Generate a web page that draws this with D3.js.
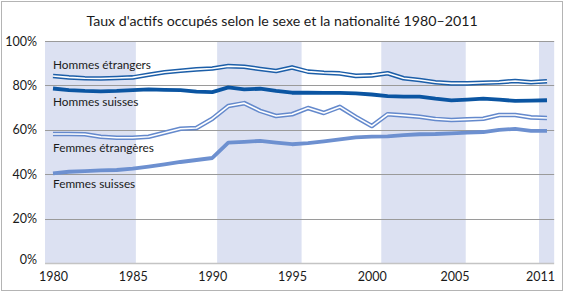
<!DOCTYPE html>
<html>
<head>
<meta charset="utf-8">
<script src="https://cdn.jsdelivr.net/npm/d3@7"></script>
<style>
  body { margin: 0; background: #fff; }
  svg text { font-family: Lato, "Noto Sans", sans-serif; fill: #1a1a1a; }
</style>
</head>
<body>
<div id="chart"></div>
<script>
const years = d3.range(1980, 2012)

const hommesEtrangers = [84.2, 83.6, 83.2, 83.1, 83.3, 83.6, 84.8, 85.9, 86.6, 87.2, 87.6, 88.7, 88.4, 87.4, 86.5, 88.1,
  86.2, 85.7, 85.4, 84.3, 84.5, 85.5, 83.2, 82.4, 81.4, 80.9, 80.9, 81.2, 81.4, 82.0, 81.4, 81.9]
const hommesSuisses = [78.6, 77.9, 77.5, 77.3, 77.5, 77.9, 78.2, 78.0, 77.9, 77.2, 77.0, 79.1, 78.2, 78.5, 77.5, 76.7,
  76.7, 76.6, 76.6, 76.4, 75.9, 75.2, 74.9, 74.9, 74.0, 73.3, 73.6, 74.0, 73.6, 73.0, 73.1, 73.3]
const femmesEtrangeres = [58.1, 58.1, 58.0, 56.9, 56.4, 56.4, 56.9, 58.7, 60.5, 60.8, 65.0, 70.7, 72.0, 68.5, 66.2, 67.0,
  69.8, 67.6, 70.3, 65.8, 61.7, 67.0, 66.5, 65.9, 64.9, 64.4, 64.7, 65.0, 66.7, 66.7, 65.6, 65.3]
const femmesSuisses = [40.4, 41.1, 41.4, 41.7, 41.9, 42.5, 43.4, 44.4, 45.5, 46.4, 47.3, 54.2, 54.6, 55.0, 54.2, 53.5,
  54.0, 54.8, 55.7, 56.6, 56.9, 57.0, 57.6, 58.0, 58.1, 58.4, 58.7, 59.0, 60.0, 60.4, 59.5, 59.5]

const seriesNames = ["Hommes étrangers", "Hommes suisses", "Femmes étrangères", "Femmes suisses"]
const xTicks = [1980, 1985, 1990, 1995, 2000, 2005, 2011]
const yTicks = [0, 20, 40, 60, 80, 100]
const bandStart = [1979.5, 1990.3, 2000.6, 2010.5]
const bandEnd = [1985.2, 1995.6, 2005.9, 2011.45]

const title = "Taux d'actifs occupés selon le sexe et la nationalité 1980–2011"

const dimensions = { width: 564, height: 293 }

const svg = d3.select("#chart")
  .append("svg")
  .attr("width", dimensions.width)
  .attr("height", dimensions.height)

svg.append("rect")
  .attr("x", 1.5).attr("y", 1.5)
  .attr("width", 561).attr("height", 289)
  .attr("fill", "#fff")
  .attr("stroke", "#b4b4b4")

const xScale = d3.scaleLinear()
  .domain([1980, 2011])
  .range([53, 547])

const yScale = d3.scaleLinear()
  .domain([0, 100])
  .range([263, 41])

const plotLeft = xScale(1979.5), plotRight = xScale(2011.45)

// shaded periods
svg.append("g")
  .selectAll("rect")
  .data(bandStart)
  .join("rect")
  .attr("x", (d, i) => xScale(d))
  .attr("width", (d, i) => xScale(bandEnd[i]) - xScale(d))
  .attr("y", yScale(100))
  .attr("height", yScale(0) - yScale(100))
  .attr("fill", "#dce1f2")

// grid
svg.append("g")
  .selectAll("line")
  .data(yTicks)
  .join("line")
  .attr("x1", plotLeft)
  .attr("x2", plotRight)
  .attr("y1", d => Math.round(yScale(d)) + 0.5)
  .attr("y2", d => Math.round(yScale(d)) + 0.5)
  .attr("stroke", d => d === 0 ? "#c4c4c4" : "#9a9a9a")
  .attr("stroke-width", d => d === 0 ? 1.5 : 1)

const yAxis = d3.axisLeft(yScale)
  .tickValues(yTicks)
  .tickFormat(d => d + "%")
  .tickSize(0)
  .tickPadding(0)

svg.append("g")
  .attr("transform", "translate(37, 0)")
  .call(yAxis)
  .call(g => g.select(".domain").remove())
  .call(g => g.selectAll("text").attr("font-size", 12.5).attr("font-family", "Lato"))
  .call(g => g.selectAll(".tick").filter(d => d === 0).select("text").attr("dy", "0.05em"))

const xAxis = d3.axisBottom(xScale)
  .tickValues(xTicks)
  .tickFormat(d3.format("d"))
  .tickSize(0)
  .tickPadding(9)

svg.append("g")
  .attr("transform", `translate(0, ${yScale(0)})`)
  .call(xAxis)
  .call(g => g.select(".domain").remove())
  .call(g => g.selectAll("text").attr("font-size", 12.5).attr("font-family", "Lato"))
  .call(g => g.selectAll(".tick").filter(d => d === 2011).select("text").attr("dx", -7))
  .call(g => g.selectAll(".tick").filter(d => d === 2005).select("text").attr("dx", 3))

const line = d3.line()
  .x((d, i) => xScale(years[i]))
  .y(d => yScale(d))

const lines = svg.append("g").attr("fill", "none").attr("stroke-linejoin", "round")

// double lines for foreigners, solid for swiss
const styles = [
  { data: hommesEtrangers, color: "#1c5ea8", width: 4.6, inner: 1.6 },
  { data: hommesSuisses, color: "#0b55a2", width: 3.8, inner: 0 },
  { data: femmesEtrangeres, color: "#6489cc", width: 4.6, inner: 1.6 },
  { data: femmesSuisses, color: "#6d90d0", width: 3.8, inner: 0 }
]

styles.forEach(s => {
  lines.append("path")
    .attr("d", line(s.data))
    .attr("stroke", s.color)
    .attr("stroke-width", s.width)
  if (s.inner) {
    lines.append("path")
      .attr("d", line(s.data))
      .attr("stroke", "#fff")
      .attr("stroke-width", s.inner)
  }
})

// series labels
const labelAt = [87.4, 70.7, 50.0, 33.8]
svg.append("g")
  .selectAll("text")
  .data(seriesNames)
  .join("text")
  .attr("x", xScale(1980))
  .attr("y", (d, i) => yScale(labelAt[i]))
  .attr("font-size", 11.8)
  .text(d => d)

svg.append("text")
  .attr("x", 282)
  .attr("y", 26)
  .attr("text-anchor", "middle")
  .attr("font-size", 14.2)
  .text(title)
</script>
</body>
</html>
